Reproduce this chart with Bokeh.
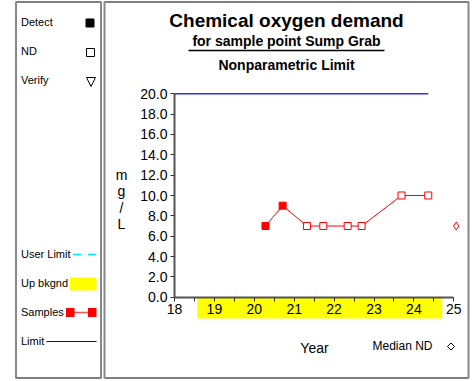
from bokeh.plotting import figure
from bokeh.models import (Range1d, FixedTicker, NumeralTickFormatter, Label,
                          BoxAnnotation, PolyAnnotation, Arrow)
from bokeh.embed import file_html
from bokeh.resources import INLINE

# ---- data (decimal two-digit years, mg/L) ----
detect_year = [20.28, 20.71]
detect_val = [7.0, 9.0]
nd_year = [21.32, 21.73, 22.34, 22.69, 23.69, 24.36]
nd_val = [7.0, 7.0, 7.0, 7.0, 10.0, 10.0]
sample_year = detect_year + nd_year
sample_val = detect_val + nd_val
median_nd_year = [25.06]
median_nd_val = [7.0]
limit_value = 20.0
limit_year = [18.0, sample_year[-1]]
bkgd_period = [18.57, 24.71]
x_ticks = [18, 19, 20, 21, 22, 23, 24, 25]
x_minor = [18.5, 19.5, 20.5, 21.5, 22.5, 23.5, 24.5]
y_ticks = [0, 2, 4, 6, 8, 10, 12, 14, 16, 18, 20]

FONT = "Liberation Sans"
W, H = 476, 381

# the plotting frame spans the whole canvas; axes sit at fixed locations inside it
AX_LEFT, AX_RIGHT = 174.0, 453.3      # pixel columns of x = 18 and x = 25
AX_BOTTOM, AX_TOP = 296.7, 93.3       # pixel rows of y = 0 and y = 20
PXY = (AX_RIGHT - AX_LEFT) / (x_ticks[-1] - x_ticks[0])
PYU = (AX_BOTTOM - AX_TOP) / (y_ticks[-1] - y_ticks[0])
XS = x_ticks[0] - AX_LEFT / PXY
XE = XS + W / PXY
YE = y_ticks[-1] + AX_TOP / PYU
YS = YE - H / PYU

def dx(px):
    return XS + px / PXY

def dy(py):
    return YE - py / PYU

p = figure(width=W, height=H, x_range=Range1d(XS, XE), y_range=Range1d(YS, YE),
           output_backend="svg", toolbar_location=None,
           min_border=0, min_border_left=0, min_border_right=0,
           min_border_top=0, min_border_bottom=0)
p.outline_line_color = None
p.grid.visible = False
p.background_fill_color = "white"
p.border_fill_color = "white"

# ---- axes ----
xa = p.xaxis[0]
xa.fixed_location = y_ticks[0]
xa.ticker = FixedTicker(ticks=x_ticks, minor_ticks=x_minor)
xa.bounds = (x_ticks[0], x_ticks[-1])
ya = p.yaxis[0]
ya.fixed_location = x_ticks[0]
ya.ticker = FixedTicker(ticks=y_ticks)
ya.bounds = (y_ticks[0], y_ticks[-1])
ya.formatter = NumeralTickFormatter(format="0.0")
for ax in (xa, ya):
    ax.axis_line_color = "#555555"
    ax.axis_line_width = 2
    ax.major_tick_line_color = "#333333"
    ax.minor_tick_line_color = "#333333"
    ax.major_tick_in = 0
    ax.major_tick_out = 4
    ax.minor_tick_in = 0
    ax.minor_tick_out = 4
    ax.major_label_text_font = FONT
    ax.major_label_text_font_size = "14px"
    ax.major_label_text_color = "black"
    ax.major_label_standoff = 3
ya.minor_tick_out = 0

# background period band under the x axis
p.quad(left=[bkgd_period[0]], right=[bkgd_period[1]], top=[dy(297)], bottom=[dy(318)],
       fill_color="#ffff00", line_color=None)

# ---- series ----
p.line(limit_year, [limit_value, limit_value], line_color="#3030e8", line_width=1.5)
p.line(sample_year, sample_val, line_color="red", line_width=1)
p.scatter(detect_year, detect_val, marker="square", size=7,
          line_color="red", fill_color="red")
p.scatter(nd_year, nd_val, marker="square", size=7,
          line_color="red", fill_color="white", line_width=1)
p.scatter(median_nd_year, median_nd_val, marker="diamond", size=8,
          line_color="red", fill_color="white", line_width=1)

# ---- panels ----
def seg(x1, y1, x2, y2, color, width=1, dash="solid"):
    p.add_layout(Arrow(end=None, x_start=dx(x1), y_start=dy(y1), x_end=dx(x2), y_end=dy(y2),
                       line_color=color, line_width=width, line_dash=dash))

def box(l, t, r, b, fill=None, line="black", width=1):
    p.add_layout(BoxAnnotation(left=dx(l), right=dx(r), top=dy(t), bottom=dy(b),
                               fill_color=fill if fill else "white", fill_alpha=1 if fill else 0,
                               line_color=line if line else "white",
                               line_width=width, line_alpha=1 if line else 0))

def poly(px, py):
    p.add_layout(PolyAnnotation(xs=[dx(v) for v in px], ys=[dy(v) for v in py],
                                fill_alpha=0, line_color="black", line_alpha=1, line_width=1))

for l, r in ((15.5, 100.5), (104, 468)):
    box(l, 1.5, r, 377.5)
    seg(l, 1, l, 378, "#888888", 2)
    seg(r, 1, r, 378, "#888888", 2)

def text(x, y, s, size=11, align="left", bold=False):
    # y is the wanted baseline row; the label anchor sits a bit above it
    p.add_layout(Label(x=dx(x), y=dy(y - 0.4 * size), text=s, text_font=FONT,
                       text_font_size=f"{size}px", text_align=align,
                       text_baseline="alphabetic",
                       text_font_style="bold" if bold else "normal", text_color="black"))

# titles
text(286, 28, "Chemical oxygen demand", 19, "center", True)
text(286, 46, "for sample point Sump Grab", 14, "center", True)
seg(188, 50, 384, 50, "black", 1.5)
text(286, 70, "Nonparametric Limit", 14, "center", True)

# axis titles
for s, yb in zip(["m", "g", "/", "L"], [180, 196.3, 212.7, 229]):
    text(121, yb, s, 14, "center")
text(314, 353, "Year", 14, "center")
text(372, 350, "Median ND", 12)
poly([447, 450.5, 454, 450.5], [346, 342.5, 346, 349.5])

# legend panel
text(20.5, 26, "Detect")
box(85.5, 18.5, 93.5, 26.5, fill="black")
text(20.5, 55, "ND")
box(86, 48, 94, 56)
text(20.5, 84, "Verify")
poly([86, 95, 90.5], [77, 77, 86])
text(20.5, 258, "User Limit")
seg(72.5, 254, 97, 254, "#00e5ff", 1.5, "8 7")
text(20.5, 287, "Up bkgnd")
box(69.5, 277, 96, 290, fill="#ffff00", line=None)
text(20.5, 316, "Samples")
seg(70, 312, 92, 312, "#ff5050", 1.5)
box(65.5, 307.5, 74, 316.5, fill="red", line=None)
box(87.5, 307.5, 96, 316.5, fill="red", line=None)
text(20.5, 345, "Limit")
seg(46, 341, 96, 341, "#0000d8", 1.2)

open("out.html", "w").write(file_html(p, INLINE))
